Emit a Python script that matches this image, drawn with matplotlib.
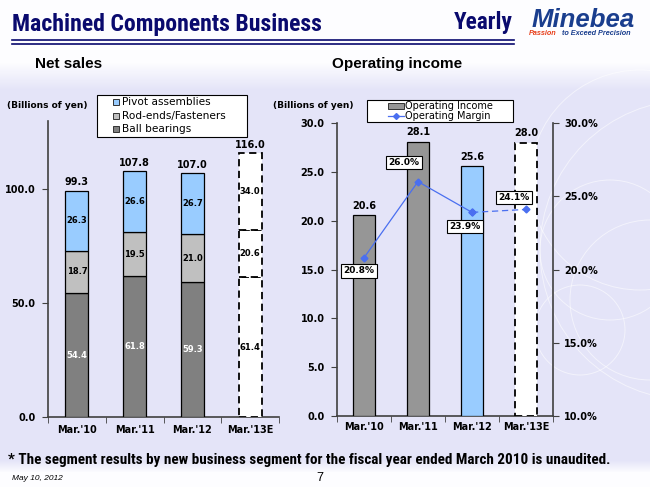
import matplotlib
matplotlib.use("Agg")
import matplotlib.pyplot as plt
import numpy as np
from matplotlib.patches import Rectangle, Circle
from matplotlib.lines import Line2D
from matplotlib import font_manager
from matplotlib.font_manager import FontProperties

# ---------------- data ----------------
categories = ["Mar.'10", "Mar.'11", "Mar.'12", "Mar.'13E"]
ball_bearings = [54.4, 61.8, 59.3, 61.4]
rod_ends = [18.7, 19.5, 21.0, 20.6]
pivot = [26.3, 26.6, 26.7, 34.0]
net_totals = [99.3, 107.8, 107.0, 116.0]
op_income = [20.6, 28.1, 25.6, 28.0]
op_margin = [20.8, 26.0, 23.9, 24.1]
left_yticks = [0.0, 50.0, 100.0]
right_yticks = [0.0, 5.0, 10.0, 15.0, 20.0, 25.0, 30.0]
margin_ticks = [10.0, 15.0, 20.0, 25.0, 30.0]
net_legend = ["Pivot assemblies", "Rod-ends/Fasteners", "Ball bearings"]
op_legend = ["Operating Income", "Operating Margin"]

W, H = 650, 487
fig = plt.figure(figsize=(6.5, 4.87), dpi=100)
fig.patch.set_facecolor("white")

def fx(px):
    return px / W

def fy(py):
    return 1 - py / H

# ---------- pick a condensed bold font if one is installed ----------
def pick_narrow():
    prefs = ["Liberation Sans Narrow", "Roboto Condensed", "Open Sans Condensed",
             "DejaVu Sans"]
    fl = font_manager.fontManager.ttflist
    for p in prefs:
        for f in fl:
            w = f.weight if isinstance(f.weight, int) else (700 if "bold" in str(f.weight) else 400)
            narrow = ("Narrow" in f.name or "Condensed" in f.name or
                      f.stretch in ("condensed", "semi-condensed"))
            if f.name == p and narrow and w >= 600 and f.style == "normal":
                return FontProperties(fname=f.fname)
    return None

narrow_fp = pick_narrow()

renderer = fig.canvas.get_renderer()

def fit_text(px, py, s, target_w, base_size, ha="left", **kw):
    if narrow_fp is not None:
        t = fig.text(fx(px), fy(py), s, fontproperties=narrow_fp, ha=ha, va="center", **kw)
    else:
        t = fig.text(fx(px), fy(py), s, family=["Liberation Sans", "DejaVu Sans"],
                     fontweight="bold", ha=ha, va="center", **kw)
    t.set_fontsize(base_size)
    w = t.get_window_extent(renderer).width
    t.set_fontsize(base_size * target_w / w)
    return t

# ---------------- background ----------------
bg = fig.add_axes([0, 0, 1, 1], zorder=-10)
ys = np.arange(H)
lav = np.array([228, 228, 248]) / 255.0
wht = np.array([253, 253, 255]) / 255.0
t = np.clip((ys - 62) / 28.0, 0, 1) * np.clip((472 - ys) / 12.0, 0, 1)
col = wht[None, :] * (1 - t[:, None]) + lav[None, :] * t[:, None]
img = np.repeat(col[:, None, :], 2, axis=1)
bg.imshow(img, aspect="auto", extent=[0, W, H, 0])
for (cx, cy, r) in [(650, 300, 80), (610, 250, 70), (640, 180, 110), (580, 330, 45), (690, 250, 150)]:
    bg.add_patch(Circle((cx, cy), r, fill=False, ec="white", lw=0.7, alpha=0.55))
bg.set_xlim(0, W)
bg.set_ylim(H, 0)
bg.axis("off")

# ---------------- header ----------------
navy = "#0A0A6E"
fit_text(12, 25, "Machined Components Business", 310, 18, color=navy)
fit_text(513, 22, "Yearly", 59, 18, ha="right", color=navy)
fig.add_artist(Line2D([fx(12), fx(514)], [fy(40), fy(40)], color=navy, lw=1.2))
fig.add_artist(Line2D([fx(12), fx(514)], [fy(43.5), fy(43.5)], color=navy, lw=1.2))
fig.text(fx(583), fy(20), "Minebea", family=["Liberation Sans", "DejaVu Sans"],
         fontsize=18.5, fontweight="bold", style="italic", color="#1A3E8E",
         va="center", ha="center")
fig.text(fx(529), fy(33.5), "Passion", family=["Liberation Sans", "DejaVu Sans"],
         fontsize=5.2, fontweight="bold", style="italic", color="#E8401C",
         va="center", ha="left")
fig.text(fx(562), fy(33.5), "to Exceed Precision", family=["Liberation Sans", "DejaVu Sans"],
         fontsize=5.2, fontweight="bold", style="italic", color="#1A3E8E",
         va="center", ha="left")

fig.text(fx(35), fy(64), "Net sales", family=["Liberation Sans", "DejaVu Sans"],
         fontsize=11, fontweight="bold", va="center", ha="left")
fig.text(fx(332), fy(64), "Operating income", family=["Liberation Sans", "DejaVu Sans"],
         fontsize=11, fontweight="bold", va="center", ha="left")
fig.text(fx(7), fy(106), "(Billions of yen)", fontsize=6.5, fontweight="bold",
         va="center", ha="left")
fig.text(fx(273), fy(106), "(Billions of yen)", fontsize=6.5, fontweight="bold",
         va="center", ha="left")

# ---------------- left chart ----------------
c_ball = "#808080"
c_rod = "#C0C0C0"
c_piv = "#99CCFF"
spine_c = "#404040"

axL = fig.add_axes([fx(48), fy(417), fx(279) - fx(48), fy(121) - fy(417)])
axL.patch.set_alpha(0)
x = np.arange(len(categories))
bw = 0.40
bottom = np.zeros(len(categories))
for vals, colr in [(ball_bearings, c_ball), (rod_ends, c_rod), (pivot, c_piv)]:
    for i, v in enumerate(vals):
        est = (i == len(categories) - 1)
        axL.bar(x[i], v, bw, bottom=bottom[i],
                color="white" if est else colr,
                edgecolor="black", lw=1.3 if est else 0.9,
                linestyle=(0, (4, 2.5)) if est else "-", zorder=3)
        tc = "white" if (colr == c_ball and not est) else "black"
        axL.text(x[i], bottom[i] + v / 2, f"{v:.1f}", ha="center", va="center",
                 fontsize=6, fontweight="bold", color=tc, zorder=4)
    bottom += np.array(vals)
for i, tot in enumerate(net_totals):
    axL.text(x[i], bottom[i] + 3.6, f"{tot:.1f}", ha="center", va="center",
             fontsize=7, fontweight="bold")

axL.set_xlim(-0.5, len(categories) - 0.5)
axL.set_ylim(0, 130)
axL.set_yticks(left_yticks)
axL.set_yticklabels([f"{v:.1f}" for v in left_yticks], fontsize=7, fontweight="bold")
axL.set_xticks(x)
axL.set_xticklabels(categories, fontsize=7, fontweight="bold")
axL.set_xticks(np.arange(len(categories) + 1) - 0.5, minor=True)
axL.tick_params(axis="x", which="major", length=0, pad=6)
axL.tick_params(axis="x", which="minor", length=4, color=spine_c, direction="out")
axL.tick_params(axis="y", length=4, color=spine_c, pad=5)
for s in ["top", "right"]:
    axL.spines[s].set_visible(False)
for s in ["left", "bottom"]:
    axL.spines[s].set_color(spine_c)
    axL.spines[s].set_linewidth(1.2)

# manual legend (left)
fig.add_artist(Rectangle((fx(97), fy(137)), fx(247) - fx(97), fy(95) - fy(137),
                         transform=fig.transFigure, fc="white", ec="black", lw=0.8,
                         zorder=5))
for k, (lab, colr) in enumerate(zip(net_legend, [c_piv, c_rod, c_ball])):
    yy = 102 + 13.5 * k
    fig.add_artist(Rectangle((fx(113), fy(yy + 3)), fx(6), fy(0) - fy(6),
                             transform=fig.transFigure, fc=colr, ec="#333333",
                             lw=0.7, zorder=6))
    fig.text(fx(122), fy(yy), lab, fontsize=7.6, va="center", ha="left", zorder=6)

# ---------------- right chart ----------------
c_inc = "#969696"
axR = fig.add_axes([fx(337), fy(416), fx(553) - fx(337), fy(123) - fy(416)])
axR.patch.set_alpha(0)
bw2 = 0.41
for i, v in enumerate(op_income):
    if i == len(categories) - 1:
        axR.bar(x[i], v, bw2, color="white", edgecolor="black", lw=1.3,
                linestyle=(0, (4, 2.5)), zorder=3)
    elif i == 2:
        axR.bar(x[i], v, bw2, color=c_piv, edgecolor="black", lw=0.9, zorder=3)
    else:
        axR.bar(x[i], v, bw2, color=c_inc, edgecolor="black", lw=0.9, zorder=3)
    axR.text(x[i], v + 0.95, f"{v:.1f}", ha="center", va="center",
             fontsize=7, fontweight="bold")
axR.set_xlim(-0.5, len(categories) - 0.5)
axR.set_ylim(0, 30)
axR.set_yticks(right_yticks)
axR.set_yticklabels([f"{v:.1f}" for v in right_yticks], fontsize=7, fontweight="bold")
axR.set_xticks(x)
axR.set_xticklabels(categories, fontsize=7, fontweight="bold")
axR.set_xticks(np.arange(len(categories) + 1) - 0.5, minor=True)
axR.tick_params(axis="x", which="major", length=0, pad=4)
axR.tick_params(axis="x", which="minor", length=4, color=spine_c, direction="out")
axR.tick_params(axis="y", length=4, color=spine_c, pad=5)
axR.spines["top"].set_visible(False)
axR.spines["right"].set_visible(False)
for s in ["left", "bottom"]:
    axR.spines[s].set_color(spine_c)
    axR.spines[s].set_linewidth(1.2)

axM = axR.twinx()
axM.set_ylim(10, 30)
axM.set_yticks(margin_ticks)
axM.set_yticklabels([f"{v:.1f}%" for v in margin_ticks], fontsize=7, fontweight="bold")
axM.tick_params(axis="y", length=4, color=spine_c, pad=4)
axM.spines["top"].set_visible(False)
axM.spines["left"].set_visible(False)
axM.spines["bottom"].set_visible(False)
axM.spines["right"].set_color(spine_c)
axM.spines["right"].set_linewidth(1.2)
line_c = "#4A6FF0"
n = len(categories)
axM.plot(x[:n - 1], op_margin[:n - 1], color=line_c, lw=0.9, marker="D",
         ms=3.5, zorder=5)
axM.plot(x[n - 2:], op_margin[n - 2:], color=line_c, lw=0.9, marker="D",
         ms=3.5, linestyle=(0, (5, 3)), zorder=5)
label_offsets = [(-5, -13), (-14, 19), (-7, -14), (-12, 12)]
for i, v in enumerate(op_margin):
    dx, dy = label_offsets[i]
    axM.annotate(f"{v:.1f}%", (x[i], v), xytext=(dx, dy), textcoords="offset pixels",
                 ha="center", va="center", fontsize=6.5, fontweight="bold",
                 bbox=dict(boxstyle="square,pad=0.25", fc="white", ec="black", lw=0.8),
                 zorder=6)

# manual legend (right)
fig.add_artist(Rectangle((fx(367), fy(122)), fx(513) - fx(367), fy(100) - fy(122),
                         transform=fig.transFigure, fc="white", ec="black", lw=0.8,
                         zorder=5))
fig.add_artist(Rectangle((fx(388), fy(108.5)), fx(16), fy(0) - fy(5.5),
                         transform=fig.transFigure, fc=c_inc, ec="#333333",
                         lw=0.7, zorder=6))
fig.text(fx(405), fy(105.7), op_legend[0], fontsize=7, va="center", ha="left", zorder=6)
fig.add_artist(Line2D([fx(388), fx(404)], [fy(116.3), fy(116.3)], color=line_c,
                      lw=0.9, zorder=6))
fig.add_artist(Line2D([fx(396)], [fy(116.3)], color=line_c, marker="D", ms=3,
                      zorder=7))
fig.text(fx(405), fy(116.3), op_legend[1], fontsize=7, va="center", ha="left", zorder=6)

# ---------------- footer ----------------
fit_text(8, 460,
         "* The segment results by new business segment for the fiscal year ended March 2010 is unaudited.",
         604, 10)
fig.text(fx(12), fy(478), "May 10, 2012", family=["Liberation Sans", "DejaVu Sans"],
         fontsize=6, style="italic", va="center", ha="left")
fig.text(fx(320), fy(478), "7", family=["Liberation Sans", "DejaVu Sans"],
         fontsize=9, va="center", ha="center")

fig.savefig("out.png", dpi=100, facecolor=fig.get_facecolor())
